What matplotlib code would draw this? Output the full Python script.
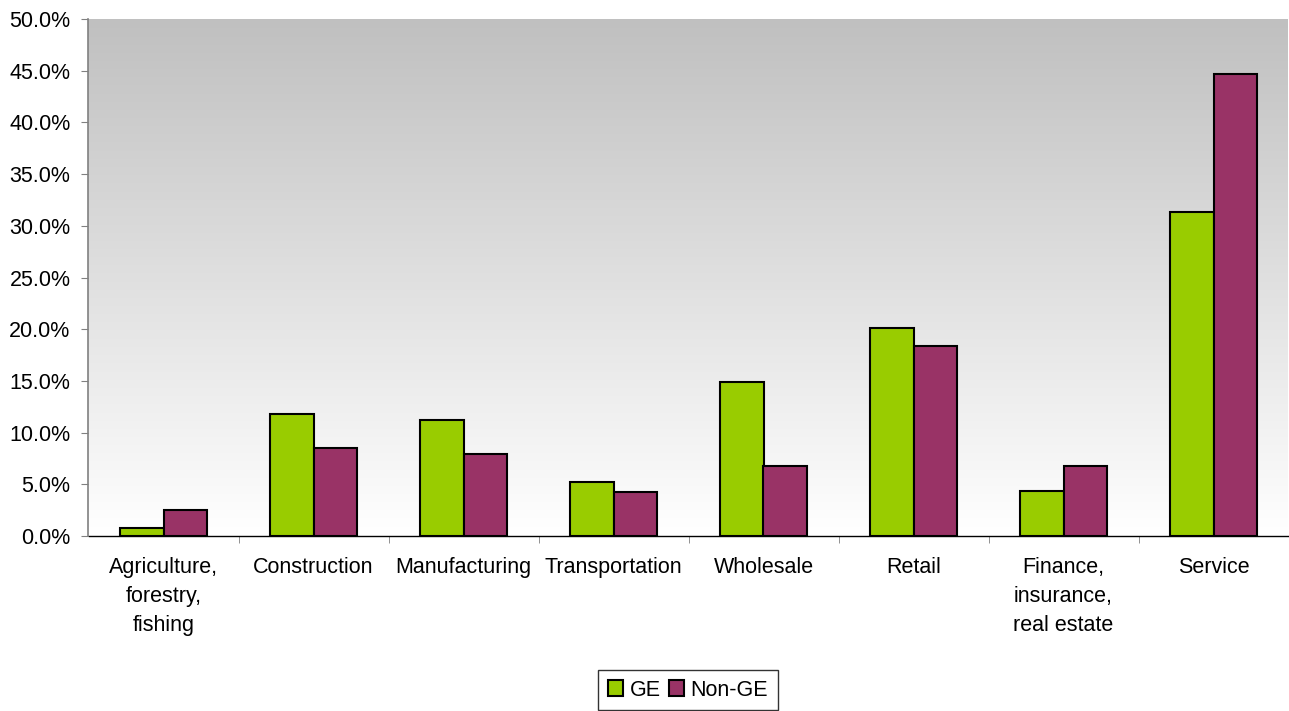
import numpy as np
import matplotlib.pyplot as plt
from matplotlib.ticker import FuncFormatter, FixedLocator

categories = ['Agriculture,\nforestry,\nfishing', 'Construction', 'Manufacturing', 'Transportation',
              'Wholesale', 'Retail', 'Finance,\ninsurance,\nreal estate', 'Service']
ge = [0.8, 11.8, 11.2, 5.2, 14.9, 20.1, 4.4, 31.3]                          # GE shares (%)
non_ge = [2.5, 8.5, 7.9, 4.3, 6.8, 18.4, 6.8, 44.7]                         # Non-GE shares (%)

plt.rcParams['font.family'] = ['Liberation Sans', 'DejaVu Sans']
fs = 15.5

fig = plt.figure(figsize=(12.89, 7.11), dpi=100)
ax = fig.add_axes([88.5/1289, (711-536)/711, 1200/1289, 517/711])

# gradient background, gray at top to white at bottom
grad = np.linspace(1.0, 0.0, 256)[:, None]
ax.imshow(grad, extent=[0, 1, 0, 1], transform=ax.transAxes, aspect='auto',
          cmap=plt.matplotlib.colors.LinearSegmentedColormap.from_list('g', ['#ffffff', '#c0c0c0']),
          zorder=0)

x = np.arange(len(categories))
w = 0.29
ax.bar(x - w/2, ge, w, color='#99CC00', edgecolor='black', linewidth=1.5, label='GE', zorder=2)
ax.bar(x + w/2, non_ge, w, color='#993366', edgecolor='black', linewidth=1.5, label='Non-GE', zorder=2)

ax.set_xlim(-0.5, len(categories) - 0.5)
ax.set_ylim(0, 50)
ax.set_yticks(np.arange(0, 51, 5))
ax.yaxis.set_major_formatter(FuncFormatter(lambda v, p: '%.1f%%' % v))

ax.set_xticks(x)
ax.set_xticklabels(categories, fontsize=fs, va='top', linespacing=1.5)
ax.xaxis.set_minor_locator(FixedLocator(np.arange(0.5, len(categories) - 1, 1.0)))
ax.tick_params(axis='x', which='major', length=0, pad=15)
ax.tick_params(axis='x', which='minor', length=5, color='#808080')
ax.tick_params(axis='y', labelsize=fs, length=5, color='#808080', pad=8)

for s in ['top', 'right']:
    ax.spines[s].set_visible(False)
ax.spines['left'].set_color('#808080')
ax.spines['left'].set_linewidth(1.2)
ax.spines['bottom'].set_color('black')
ax.spines['bottom'].set_linewidth(1.0)

leg = fig.legend(loc='center', bbox_to_anchor=(688/1289, 1 - 690/711), ncol=2, fontsize=fs,
                 frameon=True, fancybox=False, edgecolor='black', handlelength=0.7, handleheight=0.7,
                 handletextpad=0.3, columnspacing=0.4, borderpad=0.45)
leg.get_frame().set_linewidth(1.0)

fig.savefig('out.png', dpi=100)
